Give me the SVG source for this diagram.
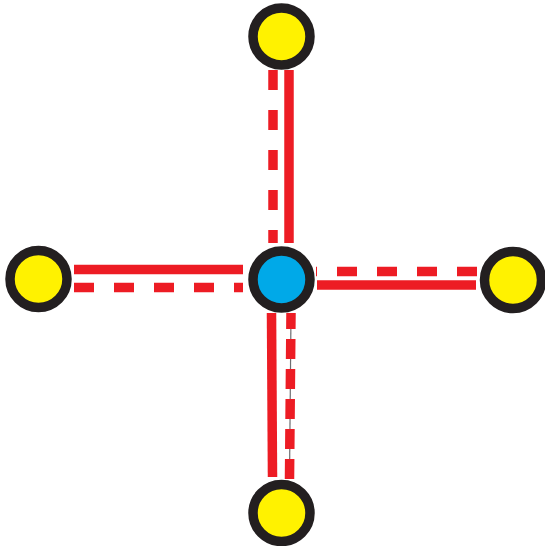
<svg xmlns="http://www.w3.org/2000/svg" width="545" height="546" viewBox="0 0 545 546">
<style>
.edge{stroke:#ed1c24;stroke-width:9.5;fill:none;stroke-linecap:butt}
.dash{stroke-dasharray:20 20}
.dash30{stroke-dasharray:20 10}
.thin{stroke:#6d6e71;stroke-width:1.2;fill:none}
.node{stroke:#231f20;stroke-width:9.5}
.leaf{fill:#fff200}
.hub{fill:#00a9e8}
</style>
<rect width="545" height="546" fill="#ffffff"/>
<g id="connectors">
<line class="edge dash" x1="273" y1="70" x2="273" y2="243"/>
<line class="edge" x1="289" y1="70" x2="289" y2="243"/>
<line class="edge" x1="74" y1="269.5" x2="243" y2="269.5"/>
<line class="edge dash" x1="74" y1="287.5" x2="243" y2="287.5"/>
<line class="edge dash" x1="477" y1="271.5" x2="316" y2="271.5"/>
<line class="edge" x1="317" y1="285" x2="476" y2="285"/>
<line class="edge" x1="271.5" y1="313" x2="272.5" y2="477"/>
<line class="thin" x1="291" y1="313" x2="289.5" y2="479"/>
<line class="edge dash30" x1="289.5" y1="479" x2="291" y2="313"/>
</g>
<g id="node-top"><circle class="node leaf" cx="281.5" cy="36.5" r="28.5"/></g>
<g id="node-left"><circle class="node leaf" cx="38.5" cy="279" r="28.5"/></g>
<g id="node-center"><circle class="node hub" cx="281.5" cy="279.5" r="28.5"/></g>
<g id="node-right"><circle class="node leaf" cx="513" cy="280" r="28.5"/></g>
<g id="node-bottom"><circle class="node leaf" cx="281.5" cy="513" r="28.5"/></g>
</svg>
